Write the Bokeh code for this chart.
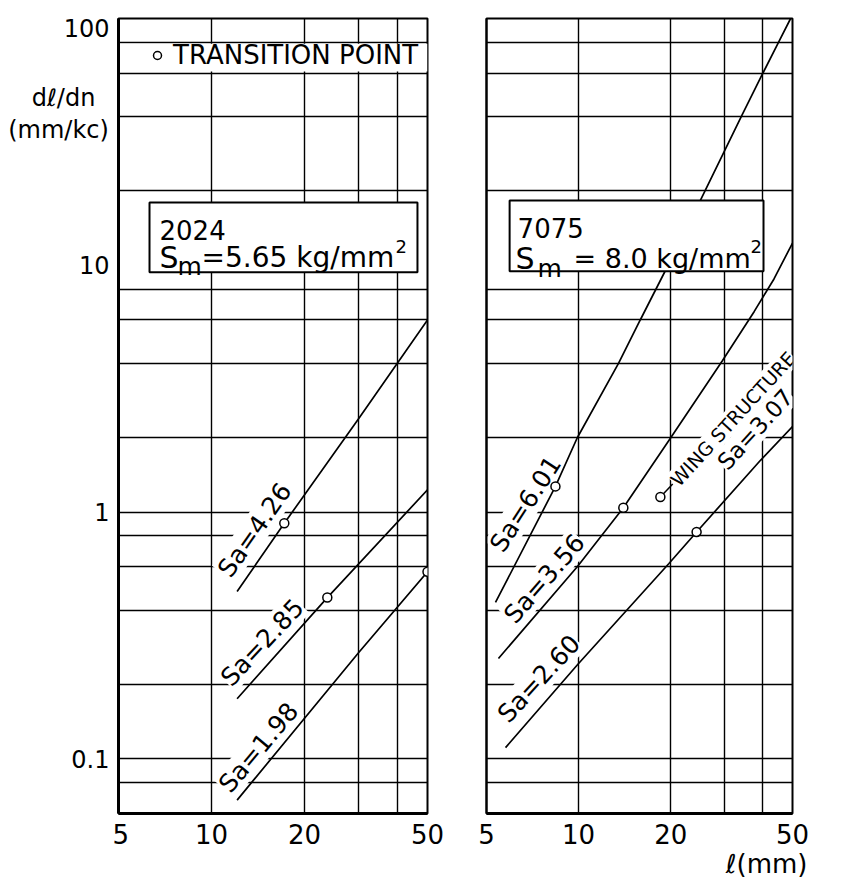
from bokeh.plotting import figure
from bokeh.layouts import row
from bokeh.models import FixedTicker, Label, BoxAnnotation, Arrow, Title
from bokeh.embed import file_html
from bokeh.resources import INLINE

FONT = "DejaVu Sans"

# ---- axes / grid -------------------------------------------------------
x_ticks = [5, 10, 20, 50]
x_tick_labels = ["5", "10", "20", "50"]
x_grid = [10, 20, 30, 40]
y_ticks = [0.1, 1, 10, 100]
y_tick_labels = ["0.1", "1", "10", "100"]
y_grid = [0.08, 0.1, 0.2, 0.4, 0.6, 0.8, 1, 2, 4, 6, 8, 20, 40, 60, 80]
y_title = ["d\u2113/dn", "(mm/kc)"]

# ---- 2024 panel (Sm = 5.65 kg/mm2) ------------------------------------
a2024_sa = ["4.26", "2.85", "1.98"]
a2024_x = [[12.1, 17.2, 30, 50], [12.1, 23.7, 50], [12.1, 30, 50]]
a2024_y = [[0.476, 0.90, 2.4, 6.0], [0.175, 0.45, 1.23], [0.068, 0.27, 0.573]]
a2024_tp_x = [17.2, 23.7, 50]
a2024_tp_y = [0.90, 0.45, 0.573]

# ---- 7075 panel (Sm = 8.0 kg/mm2) -------------------------------------
a7075_sa = ["6.01", "3.56", "2.60"]
a7075_x = [[5.35, 8.4, 9.9, 13.5, 15.9, 19.2, 25, 34, 40, 45, 49.3],
           [5.47, 9.9, 14.0, 20.0, 29.5, 37.5, 43.5, 50],
           [5.77, 9.93, 19.7, 24.3, 39.3, 50]]
a7075_y = [[0.43, 1.27, 2.0, 4.0, 6.0, 9.5, 18.3, 40, 60, 80, 100],
           [0.255, 0.6, 1.04, 2.0, 4.1, 6.5, 8.8, 12.3],
           [0.111, 0.241, 0.617, 0.83, 1.62, 2.22]]
a7075_tp_x = [8.4, 14.0, 24.3]
a7075_tp_y = [1.27, 1.04, 0.83]
wing_x = [18.5]
wing_y = [1.15]
wing_sa = "3.07"

H = 878
TOP, BOT = 18, 61
Y0, Y1 = 0.06, 100


def make_fig(width, left, right):
    p = figure(width=width, height=H, x_axis_type="log", y_axis_type="log",
               x_range=(5, 50), y_range=(Y0, Y1),
               output_backend="svg", toolbar_location=None,
               min_border_left=left, min_border_right=right,
               min_border_top=TOP, min_border_bottom=BOT)
    p.background_fill_color = "white"
    p.border_fill_color = "white"
    p.outline_line_color = "black"
    p.outline_line_width = 2
    p.outline_line_alpha = 1

    p.xaxis.ticker = FixedTicker(ticks=x_ticks)
    p.xaxis.major_label_overrides = {t: s for t, s in zip(x_ticks, x_tick_labels)}
    p.yaxis.ticker = FixedTicker(ticks=y_ticks)
    for ax in (p.xaxis, p.yaxis):
        ax.axis_line_width = 3
        ax.axis_line_color = "black"
        ax.major_tick_line_color = None
        ax.minor_tick_line_color = None
        ax.major_tick_out = 0
        ax.major_tick_in = 0
        ax.major_label_text_font = FONT
        ax.major_label_text_color = "black"
    p.xaxis.major_label_text_font_size = "26px"
    p.xaxis.major_label_standoff = 10
    # y tick labels are drawn in the left strip figure; keep only the axis line
    p.yaxis.major_label_text_font_size = "1px"
    p.yaxis.major_label_text_alpha = 0
    p.yaxis.major_label_standoff = 0

    p.xgrid.ticker = FixedTicker(ticks=x_grid)
    p.ygrid.ticker = FixedTicker(ticks=y_grid)
    for g in (p.xgrid, p.ygrid):
        g.grid_line_color = "black"
        g.grid_line_width = 1.4
        g.grid_line_alpha = 1
    return p


def sa_label(p, x, y, text, angle, size="25px", align="center"):
    p.add_layout(Label(x=x, y=y, text=text, angle=angle, angle_units="deg",
                       text_align=align, text_baseline="middle",
                       text_font=FONT, text_font_size=size, text_color="black",
                       background_fill_color="white", level="underlay"))


def txt(p, x, y, text, dx, dy, size):
    p.add_layout(Label(x=x, y=y, x_offset=dx, y_offset=dy, text=text,
                       text_align="left", text_baseline="alphabetic",
                       text_font=FONT, text_font_size=size, text_color="black"))


def box(p, l, r, b, t):
    p.add_layout(BoxAnnotation(left=l, right=r, bottom=b, top=t,
                               fill_color="white", fill_alpha=1,
                               line_color="black", line_alpha=1, line_width=2))


# ================= left strip: y tick labels and y title =================
p0 = figure(width=112, height=H, x_range=(0, 112), y_range=(Y0, Y1),
            y_axis_type="log", x_axis_location=None, y_axis_location=None,
            output_backend="svg", toolbar_location=None,
            min_border_left=0, min_border_right=0, min_border_top=TOP,
            min_border_bottom=BOT)
p0.outline_line_color = None
p0.background_fill_color = "white"
p0.border_fill_color = "white"
for g in p0.grid:
    g.visible = False
for t, s in zip(y_ticks, y_tick_labels):
    p0.add_layout(Label(x=109, y=t, text=s, text_align="right",
                        text_baseline="top" if t == Y1 else "middle",
                        text_font=FONT, text_font_size="24px", text_color="black"))
for xx, yy, s in ((63, 47.6, y_title[0]), (58, 35.4, y_title[1])):
    p0.add_layout(Label(x=xx, y=yy, text=s, text_align="center",
                        text_baseline="middle", text_font=FONT,
                        text_font_size="24px", text_color="black"))

# ======================= left panel (2024) ==============================
p1 = make_fig(348, 6, 33)

# blank band holding the legend entry
p1.add_layout(BoxAnnotation(left=5, right=50, bottom=61, top=79,
                            fill_color="white", fill_alpha=1,
                            line_color=None, level="underlay"))

for xs, ys in zip(a2024_x, a2024_y):
    p1.line(xs, ys, line_color="black", line_width=1.7)
p1.scatter(a2024_tp_x, a2024_tp_y, marker="circle", size=9, fill_color="white",
           line_color="black", line_width=1.5, legend_label="TRANSITION POINT")

lg = p1.legend[0]
lg.location = (29, 743)
lg.label_text_font = FONT
lg.label_text_font_size = "26px"
lg.label_text_color = "black"
lg.background_fill_alpha = 0
lg.border_line_alpha = 0
lg.padding = 0
lg.margin = 0
lg.spacing = 0
lg.glyph_width = 20
lg.glyph_height = 20
lg.label_standoff = 6

sa_label(p1, 13.8, 0.846, "Sa=" + a2024_sa[0], 55)
sa_label(p1, 14.6, 0.296, "Sa=" + a2024_sa[1], 47)
sa_label(p1, 14.2, 0.111, "Sa=" + a2024_sa[2], 50)

box(p1, 6.3, 46.4, 9.37, 17.95)
bx, by = 6.3, 17.95
txt(p1, bx, by, "2024", 10, -27, "26px")
txt(p1, bx, by, "S", 10, -55, "30px")
txt(p1, bx, by, "m", 28, -64, "25px")
txt(p1, bx, by, "=5.65 kg/mm", 52, -55, "28px")
txt(p1, bx, by, "2", 246, -44, "18px")

# ======================= right panel (7075) =============================
p2 = make_fig(385, 26, 53)
p2.yaxis.axis_line_width = 2

for xs, ys in zip(a7075_x, a7075_y):
    p2.line(xs, ys, line_color="black", line_width=1.7)

p2.add_layout(Arrow(end=None, x_start=wing_x[0], y_start=wing_y[0],
                    x_end=20.3, y_end=1.30, line_color="black",
                    line_width=1.5, level="underlay"))

p2.scatter(a7075_tp_x + wing_x, a7075_tp_y + wing_y, marker="circle", size=9,
           fill_color="white", line_color="black", line_width=1.5)

sa_label(p2, 6.71, 1.077, "Sa=" + a7075_sa[0], 57)
sa_label(p2, 7.74, 0.537, "Sa=" + a7075_sa[1], 49)
sa_label(p2, 7.42, 0.211, "Sa=" + a7075_sa[2], 47.5)
sa_label(p2, 20.5, 1.31, "WING STRUCTURE", 47.5, size="19px", align="left")
sa_label(p2, 37.8, 2.16, "Sa=" + wing_sa, 47.5, size="23px")

box(p2, 5.95, 40.2, 9.46, 18.3)
bx, by = 5.95, 18.3
txt(p2, bx, by, "7075", 8, -28, "26px")
txt(p2, bx, by, "S", 6, -58, "30px")
txt(p2, bx, by, "m", 28, -68, "25px")
txt(p2, bx, by, "= 8.0 kg/mm", 64, -58, "27px")
txt(p2, bx, by, "2", 241, -46, "18px")

p2.add_layout(Title(text="\u2113(mm)", align="right", offset=-15, standoff=0,
                    text_font=FONT, text_font_size="26px",
                    text_font_style="normal", text_color="black"), "below")

layout = row(p0, p1, p2)
open("out.html", "w").write(file_html(layout, INLINE))
